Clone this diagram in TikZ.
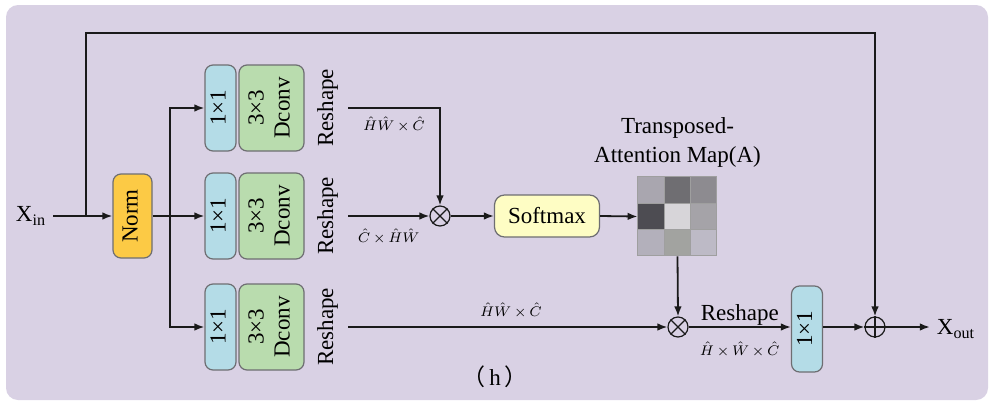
\documentclass[tikz,border=0pt]{standalone}
\usepackage{fontspec}
\setmainfont{Liberation Serif}
\newfontfamily\cjk{Noto Sans CJK SC}
\usepackage{tikz}
\usetikzlibrary{positioning,arrows.meta,calc}

\definecolor{bg_col}{HTML}{D9D1E4}
\definecolor{one_col}{HTML}{B4DCE7}
\definecolor{conv_col}{HTML}{B9DCAE}
\definecolor{norm_col}{HTML}{FCCA45}
\definecolor{soft_col}{HTML}{FEFDC4}
\definecolor{edge_col}{HTML}{6E6E72}
\definecolor{line_col}{HTML}{1A1A1A}

\newcommand{\vtext}[1]{\rotatebox{90}{\begin{tabular}{@{}c@{}}#1\end{tabular}}}
\newcommand{\tm}{\,{\times}\,}

\begin{document}
\begin{tikzpicture}[
    x=0.5pt, y=-0.5pt,
    font=\fontsize{11.5}{13}\selectfont,
    base_box/.style={draw=edge_col, line width=0.6pt, rounded corners=4pt, inner sep=0pt, minimum height=43pt},
    one_box/.style={base_box, fill=one_col, minimum width=15.5pt},
    conv_box/.style={base_box, fill=conv_col, minimum width=32.5pt},
    norm_box/.style={base_box, fill=norm_col, minimum width=19.5pt, minimum height=42pt},
    soft_box/.style={base_box, fill=soft_col, minimum width=52.5pt, minimum height=21pt, rounded corners=5pt},
    op_circle/.style={circle, draw=line_col, line width=0.6pt, minimum size=10pt, inner sep=0pt},
    dim_label/.style={font=\fontsize{7}{8}\selectfont, inner sep=1pt},
    arrow/.style={-{Latex[length=5pt,width=3.8pt]}, line width=0.9pt, draw=line_col}
]

% canvas
\useasboundingbox (0,0) rectangle (995,407);
\fill[bg_col, rounded corners=6pt] (6,5) rectangle (988,400);

% input and norm
\node (xin) at (31,216) {X\textsubscript{in}};
\node (norm) [norm_box] at (132.5,216) {\vtext{Norm}};

% three projection branches
\foreach \name/\y in {a/108, b/216, c/327} {
    \node (one_\name) [one_box] at (220.5,\y) {\vtext{1×1}};
    \node (conv_\name) [conv_box] at (271.5,\y) {\vtext{3×3\\Dconv}};
    \node (resh_\name) at (328,\y) {\vtext{Reshape}};
}

% attention part
\node (mul_a) [op_circle] at (440,216) {};
\node (softmax) [soft_box] at (547,216) {Softmax};
\node (amap) [minimum size=39.5pt, inner sep=0pt] at (677.5,216.5) {};
\node (amap_title) [above=1pt of amap, align=center, font=\fontsize{11.5}{14.5}\selectfont] {Transposed-\\Attention Map(A)};
\node (mul_b) [op_circle] at (678,327) {};
\node (one_out) [one_box] at (807,329) {\vtext{1×1}};
\node (add) [op_circle] at (875,327) {};
\node (xout) at (956,329) {X\textsubscript{out}};
\node (caption) at (495,377) {{\cjk （}\hspace{2pt}h\hspace{2pt}{\cjk ）}};

% attention map cells
\foreach \g [count=\i from 0] in {A9A6AF,6F6E72,8D8B90,4D4C52,D7D5D9,A5A3A8,B3B0BB,A2A3A0,BDBAC6} {
    \definecolor{cell}{HTML}{\g}
    \pgfmathtruncatemacro{\row}{\i/3}
    \pgfmathtruncatemacro{\col}{mod(\i,3)}
    \fill[cell, draw=gray!75, line width=0.4pt] ($(amap.north west)+(\col*26.33,\row*26.33)$) rectangle ++(26.33,26.33);
}

% operator symbols
\draw[line_col, line width=0.6pt] (mul_a.north east) -- (mul_a.south west) (mul_a.north west) -- (mul_a.south east);
\draw[line_col, line width=0.6pt] (mul_b.north east) -- (mul_b.south west) (mul_b.north west) -- (mul_b.south east);
\draw[line_col, line width=0.6pt] (add.north) -- (add.south) (add.west) -- (add.east);

% connectors
\coordinate (split) at (86,216);
\coordinate (skip_top) at (86,33);
\coordinate (fork) at (170,216);
\draw[arrow] (xin.east) -- (norm.west);
\draw[arrow] (split) -- (skip_top) -| (add.north);
\draw[arrow] (norm.east) -- (one_b.west);
\draw[arrow] (fork) |- (one_a.west);
\draw[arrow] (fork) |- (one_c.west);
\draw[arrow] (resh_a.east) -| node[below=3pt, dim_label, pos=0.25] {$\hat{H}\hat{W}\tm\hat{C}$} (mul_a.north);
\draw[arrow] (resh_b.east) -- node[below=5pt, dim_label] {$\hat{C}\tm\hat{H}\hat{W}$} (mul_a.west);
\draw[arrow] (mul_a.east) -- (softmax.west);
\draw[arrow] (softmax.east) -- (amap.west);
\draw[arrow] (amap.south) -- (mul_b.north);
\draw[arrow] (resh_c.east) -- node[above=3pt, dim_label, pos=0.51] {$\hat{H}\hat{W}\tm\hat{C}$} (mul_b.west);
\draw[arrow] (mul_b.east) -- node[above, inner sep=0.5pt] {Reshape} node[below=6pt, dim_label] {$\hat{H}\tm\hat{W}\tm\hat{C}$} (one_out.west |- mul_b.east);
\draw[arrow] (one_out.east |- add.west) -- (add.west);
\draw[arrow] (add.east) -- (xout.west |- add.east);

\end{tikzpicture}
\end{document}
